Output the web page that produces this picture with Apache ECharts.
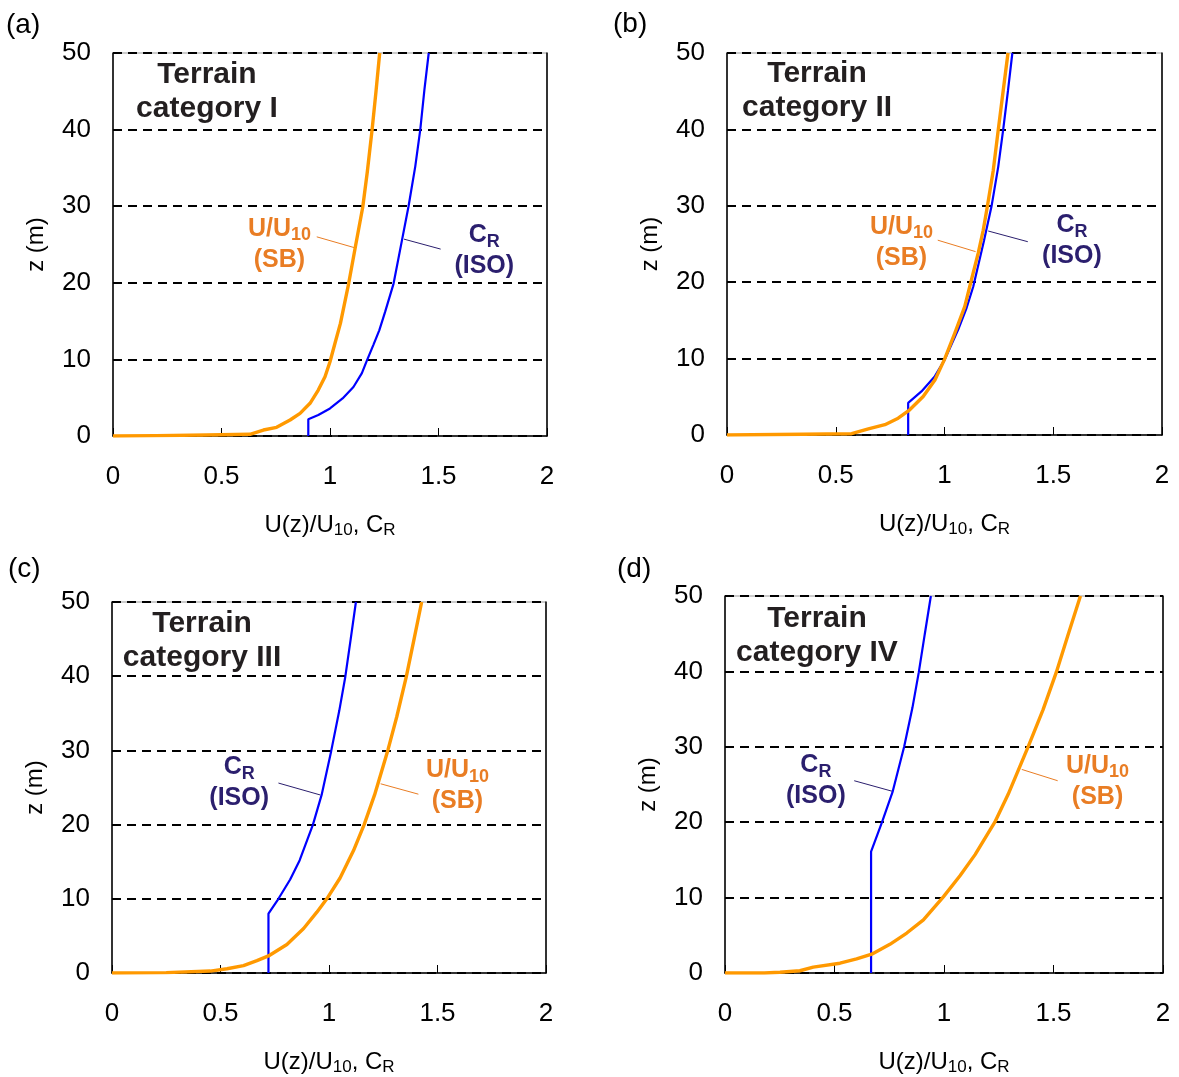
<!DOCTYPE html>
<html>
<head>
<meta charset="utf-8">
<title>Wind profiles by terrain category</title>
<script src="https://cdn.jsdelivr.net/npm/echarts@6/dist/echarts.min.js"></script>
<style>
  html, body { margin: 0; padding: 0; background: #fff; }
  #chart { width: 1179px; height: 1077px; }
</style>
</head>
<body>
<div id="chart"></div>
<script>
// axis ticks
const xTicks = [0, 0.5, 1, 1.5, 2]
const zTicks = [0, 10, 20, 30, 40, 50]
const panelNames = ['(a)', '(b)', '(c)', '(d)']
const terrainNames = ['I', 'II', 'III', 'IV']

// C_R (ISO) per terrain category, [value, z]
const isoI = [[0.9, 0], [0.9, 2.18], [0.946, 2.74], [1.0, 3.6], [1.058, 4.9], [1.108, 6.4], [1.147, 8.2], [1.168, 9.7], [1.2, 11.9], [1.227, 13.8], [1.254, 16.2], [1.293, 19.9], [1.332, 25.6], [1.362, 30], [1.393, 35.2], [1.416, 40], [1.435, 45.2], [1.455, 50]]
const isoII = [[0.833, 0], [0.833, 4.2], [0.894, 5.7], [0.956, 7.7], [1.0, 9.8], [1.063, 13.8], [1.1, 16.5], [1.132, 19.4], [1.182, 25.5], [1.216, 29.9], [1.247, 35.1], [1.27, 40], [1.292, 45.1], [1.312, 50]]
const isoIII = [[0.721, 0], [0.721, 8.0], [0.767, 10.0], [0.821, 12.6], [0.865, 15.2], [0.926, 20.0], [0.966, 24], [1.01, 29.9], [1.047, 35.3], [1.075, 39.9], [1.1, 45], [1.124, 50]]
const isoIV = [[0.667, 0], [0.667, 16.1], [0.717, 20], [0.766, 24.1], [0.818, 30], [0.856, 35.2], [0.885, 39.9], [0.912, 44.9], [0.94, 50]]

// U/U10 (SB) per terrain category, [value, z]
const sbI = [[0, 0], [0.2, 0.05], [0.43, 0.13], [0.631, 0.22], [0.693, 0.78], [0.754, 1.13], [0.816, 2.09], [0.862, 2.96], [0.908, 4.27], [0.946, 6.0], [0.977, 7.74], [1.0, 9.7], [1.023, 12.1], [1.048, 14.7], [1.086, 19.9], [1.117, 24.7], [1.151, 29.9], [1.172, 34.5], [1.194, 40], [1.212, 45], [1.229, 50]]
const sbII = [[0, 0], [0.35, 0.1], [0.573, 0.17], [0.65, 0.8], [0.726, 1.35], [0.787, 2.2], [0.84, 3.3], [0.902, 5.05], [0.956, 7.2], [1.0, 9.9], [1.047, 13.3], [1.093, 16.8], [1.122, 20.1], [1.155, 23.8], [1.178, 26.8], [1.197, 29.9], [1.224, 34.6], [1.247, 39.9], [1.27, 45.1], [1.292, 50]]
const sbIII = [[0, 0], [0.25, 0.05], [0.453, 0.26], [0.53, 0.57], [0.606, 1.0], [0.668, 1.66], [0.721, 2.3], [0.806, 3.85], [0.883, 6.0], [0.944, 8.2], [0.99, 10], [1.051, 12.8], [1.113, 16.5], [1.162, 20], [1.21, 24], [1.272, 30.1], [1.312, 34.5], [1.356, 39.9], [1.392, 45], [1.427, 50]]
const sbIV = [[0, 0], [0.18, 0], [0.251, 0.1], [0.342, 0.3], [0.403, 0.78], [0.525, 1.3], [0.601, 1.86], [0.67, 2.5], [0.753, 3.8], [0.83, 5.3], [0.906, 7.05], [0.997, 10.1], [1.073, 12.9], [1.142, 15.7], [1.232, 20], [1.293, 23.7], [1.384, 30], [1.452, 34.9], [1.513, 39.9], [1.567, 44.9], [1.623, 50]]

const isoData = [isoI, isoII, isoIII, isoIV]
const sbData = [sbI, sbII, sbIII, sbIV]

// layout
const grids = [
  { left: 113, top: 53, width: 434, height: 383 },
  { left: 727, top: 53, width: 435, height: 382 },
  { left: 112, top: 602, width: 434, height: 381 },
  { left: 725, top: 596, width: 438, height: 385 }
]
const panelLabelAt = [[6, 25], [613, 24], [8, 569], [617, 569]]
// annotation anchors in data coords
const terrainAt = [[0.433, 45.0], [0.414, 45.0], [0.415, 44.8], [0.42, 44.7]]
const sbLabelAt = [[0.767, 25.0], [0.802, 25.2], [1.592, 25.2], [1.701, 25.4]]
const isoLabelAt = [[1.711, 24.2], [1.586, 25.4], [0.586, 25.6], [0.415, 25.5]]
const sbLeader = [[[0.939, 26.0], [1.111, 24.6]], [[0.969, 25.5], [1.143, 24.0]], [[1.238, 25.5], [1.412, 24.1]], [[1.355, 27.0], [1.519, 25.5]]]
const isoLeader = [[[1.341, 25.7], [1.51, 24.4]], [[1.201, 26.7], [1.383, 25.3]], [[0.767, 25.6], [0.959, 24.0]], [[0.59, 25.5], [0.764, 24.1]]]

const FONT = 'Liberation Sans, Arial, Helvetica, sans-serif'
const ORANGE_LINE = '#ff9900'
const BLUE_LINE = '#0000ff'
const ORANGE_TEXT = '#e97d24'
const NAVY_TEXT = '#2b1f6e'

const chart = echarts.init(document.getElementById('chart'))

const xAxes = []
const yAxes = []
const series = []

grids.forEach((g, i) => {
  xAxes.push({
    type: 'value', gridIndex: i,
    min: xTicks[0], max: xTicks[xTicks.length - 1], interval: xTicks[1] - xTicks[0],
    axisLine: { show: true, onZero: false, lineStyle: { color: '#000', width: 1.5 } },
    axisTick: { show: true, inside: true, length: 8, lineStyle: { color: '#000', width: 1 } },
    axisLabel: { fontSize: 26, color: '#000', margin: 28, fontFamily: FONT },
    splitLine: { show: false },
    name: '{m|U(z)/U}{s|10}{m|, C}{s|R}',
    nameLocation: 'middle',
    nameGap: 75,
    nameTextStyle: {
      fontFamily: FONT, color: '#000',
      rich: {
        m: { fontSize: 24, lineHeight: 28, fontFamily: FONT, color: '#000' },
        s: { fontSize: 17, lineHeight: 17, verticalAlign: 'bottom', fontFamily: FONT, color: '#000' }
      }
    }
  })
  // left axis with dashed grid lines
  yAxes.push({
    type: 'value', gridIndex: i,
    min: zTicks[0], max: zTicks[zTicks.length - 1], interval: zTicks[1] - zTicks[0],
    axisLine: { show: true, onZero: false, lineStyle: { color: '#000', width: 1.5 } },
    axisTick: { show: false },
    axisLabel: { fontSize: 26, color: '#000', margin: 22, fontFamily: FONT, padding: [8, 0, 0, 0] },
    splitLine: { show: true, lineStyle: { color: '#000', width: 2, type: [9, 6] } },
    name: 'z (m)',
    nameLocation: 'middle',
    nameGap: 65,
    nameTextStyle: { fontSize: 24, color: '#000', fontFamily: FONT }
  })
  // right frame side
  yAxes.push({
    type: 'value', gridIndex: i, position: 'right',
    min: zTicks[0], max: zTicks[zTicks.length - 1], interval: zTicks[1] - zTicks[0],
    axisLine: { show: true, onZero: false, lineStyle: { color: '#000', width: 1.5 } },
    axisTick: { show: false }, axisLabel: { show: false }, splitLine: { show: false }
  })

  const lineBase = { type: 'line', xAxisIndex: i, yAxisIndex: i * 2, showSymbol: false, symbol: 'none', silent: true, animation: false }
  series.push(Object.assign({}, lineBase, { name: 'C_R (ISO)', data: isoData[i], lineStyle: { color: BLUE_LINE, width: 2.2 }, z: 3 }))
  series.push(Object.assign({}, lineBase, { name: 'U/U10 (SB)', data: sbData[i], lineStyle: { color: ORANGE_LINE, width: 3.4, join: 'round' }, z: 4 }))
  series.push(Object.assign({}, lineBase, { data: sbLeader[i], lineStyle: { color: ORANGE_TEXT, width: 1 }, z: 2 }))
  series.push(Object.assign({}, lineBase, { data: isoLeader[i], lineStyle: { color: NAVY_TEXT, width: 1 }, z: 2 }))
})

chart.setOption({
  backgroundColor: '#fff',
  animation: false,
  grid: grids.map(g => Object.assign({ show: true, borderColor: '#999', borderWidth: 1, containLabel: false }, g)),
  xAxis: xAxes,
  yAxis: yAxes,
  series: series
})

// text annotations, placed through the grid scales
const graphic = []
grids.forEach((g, i) => {
  const lab = panelLabelAt[i]
  graphic.push({
    type: 'text', x: lab[0], y: lab[1],
    style: { text: panelNames[i], fontSize: 28, fontFamily: FONT, fill: '#000', align: 'left', verticalAlign: 'middle' }
  })

  let p = chart.convertToPixel({ gridIndex: i }, terrainAt[i])
  graphic.push({
    type: 'text', x: p[0], y: p[1], z: 10,
    style: {
      text: 'Terrain\ncategory ' + terrainNames[i],
      fontSize: 30, fontWeight: 'bold', fontFamily: FONT, lineHeight: 34,
      fill: '#231f20', align: 'center', verticalAlign: 'middle'
    }
  })

  p = chart.convertToPixel({ gridIndex: i }, sbLabelAt[i])
  graphic.push({
    type: 'text', x: p[0], y: p[1], z: 10,
    style: {
      text: '{m|U/U}{s|10}\n{m|(SB)}',
      align: 'center', verticalAlign: 'middle',
      rich: {
        m: { fontSize: 25, fontWeight: 'bold', fontFamily: FONT, fill: ORANGE_TEXT, lineHeight: 31, align: 'center' },
        s: { fontSize: 18, fontWeight: 'bold', fontFamily: FONT, fill: ORANGE_TEXT, lineHeight: 18, verticalAlign: 'bottom', align: 'center' }
      }
    }
  })

  p = chart.convertToPixel({ gridIndex: i }, isoLabelAt[i])
  graphic.push({
    type: 'text', x: p[0], y: p[1], z: 10,
    style: {
      text: '{m|C}{s|R}\n{m|(ISO)}',
      align: 'center', verticalAlign: 'middle',
      rich: {
        m: { fontSize: 25, fontWeight: 'bold', fontFamily: FONT, fill: NAVY_TEXT, lineHeight: 31, align: 'center' },
        s: { fontSize: 18, fontWeight: 'bold', fontFamily: FONT, fill: NAVY_TEXT, lineHeight: 18, verticalAlign: 'bottom', align: 'center' }
      }
    }
  })
})

chart.setOption({ graphic: graphic })
</script>
</body>
</html>
